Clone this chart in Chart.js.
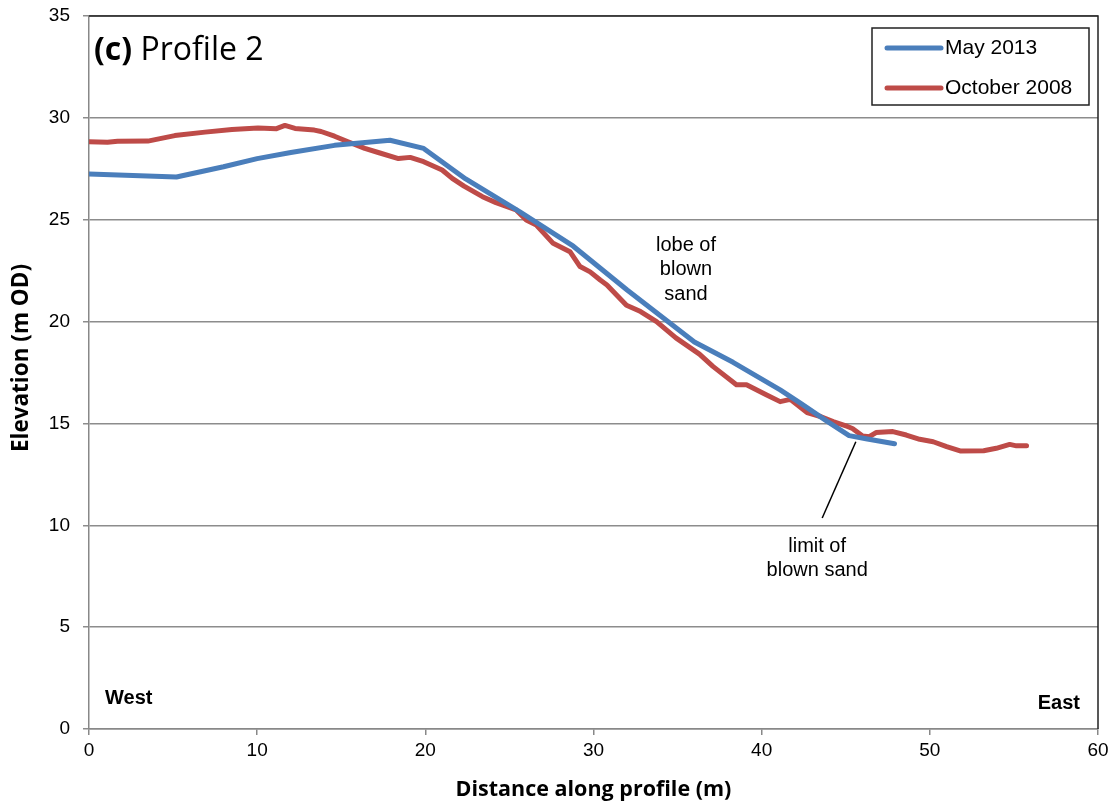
<!DOCTYPE html>
<html>
<head>
<meta charset="utf-8">
<script src="https://cdn.jsdelivr.net/npm/chart.js@4/dist/chart.umd.min.js"></script>
<style>
  html, body { margin: 0; padding: 0; background: #fff; }
  #wrap { width: 1118px; height: 807px; position: relative; }
</style>
</head>
<body>
<div id="wrap"><canvas id="chart" width="1118" height="807"></canvas></div>
<script>
// Profile data
const mayX = [0, 5.2, 8, 10, 12, 14.6, 17.9, 19.9, 22.4, 25.6, 28.8, 32.0, 36.0, 38.3, 41.1, 42.3, 43.9, 45.2, 46.2, 47.9];
const mayY = [27.25, 27.1, 27.6, 28.0, 28.3, 28.65, 28.9, 28.5, 27.0, 25.4, 23.7, 21.55, 19.0, 18.0, 16.65, 16.0, 15.1, 14.4, 14.25, 14.0];

const octX = [0, 1.1, 1.7, 3.5, 5.1, 6.9, 8.5, 10.05, 11.15, 11.65, 12.25, 13.4, 13.8, 14.6, 15.4, 16.4, 17.2, 18.4, 19.1, 19.9,
  21.0, 21.6, 22.3, 23.4, 24.2, 25.4, 26.0, 26.6, 27.6, 28.6, 29.2, 29.8, 30.4, 30.8, 31.96, 32.8, 33.75, 34.9, 36.3, 37.1,
  38.5, 39.1, 40.3, 41.1, 41.7, 42.7, 43.5, 44.25, 45.1, 45.4, 46.0, 46.4, 46.8, 47.8, 48.6, 49.4, 50.2, 51.0, 51.8, 53.2,
  53.95, 54.75, 55.15, 55.75];
const octY = [28.83, 28.8, 28.85, 28.86, 29.13, 29.3, 29.43, 29.5, 29.47, 29.63, 29.48, 29.4, 29.33, 29.1, 28.83, 28.5, 28.3, 28.0, 28.06, 27.85,
  27.44, 27.03, 26.65, 26.13, 25.84, 25.48, 24.99, 24.74, 23.84, 23.43, 22.7, 22.44, 22.04, 21.8, 20.8, 20.49, 20.0, 19.2, 18.4, 17.8,
  16.9, 16.9, 16.4, 16.07, 16.18, 15.53, 15.34, 15.09, 14.85, 14.75, 14.38, 14.35, 14.55, 14.6, 14.43, 14.22, 14.1, 13.86, 13.65, 13.66,
  13.78, 13.97, 13.9, 13.9];

const seriesNames = ['May 2013', 'October 2008'];
const seriesColors = ['#4A7EBB', '#BE4B48'];
const xTicks = [0, 10, 20, 30, 40, 50, 60];
const yTicks = [0, 5, 10, 15, 20, 25, 30, 35];

const toPoints = (xs, ys) => xs.map((x, i) => ({ x, y: ys[i] }));

const TICK_FONT = { family: 'Liberation Sans, Arial, sans-serif', size: 19 };
const TITLE_FONT = { family: 'Open Sans, sans-serif', size: 21.5, weight: 'bold' };
const LABEL = '20px Liberation Sans, Arial, sans-serif';

// Text labels, frame and legend drawn on top of the chart area
const overlay = {
  id: 'overlay',
  afterDraw(chart) {
    const { ctx, chartArea: a, scales: { x, y } } = chart;
    ctx.save();

    // plot frame: dark top and right edges
    ctx.strokeStyle = '#222';
    ctx.lineWidth = 1.5;
    ctx.beginPath();
    ctx.moveTo(a.left, a.top);
    ctx.lineTo(a.right, a.top);
    ctx.lineTo(a.right, a.bottom);
    ctx.stroke();

    // y axis title
    ctx.save();
    ctx.translate(22, 358);
    ctx.rotate(-Math.PI / 2);
    ctx.font = 'bold 22.5px Open Sans, sans-serif';
    ctx.fillStyle = '#000';
    ctx.textAlign = 'center';
    ctx.textBaseline = 'middle';
    ctx.fillText('Elevation (m OD)', 0, 0);
    ctx.restore();

    // panel title
    ctx.fillStyle = '#000';
    ctx.textBaseline = 'alphabetic';
    ctx.textAlign = 'left';
    ctx.font = 'bold 32px Open Sans, sans-serif';
    ctx.fillText('(c)', 94, 60);
    const w = ctx.measureText('(c) ').width;
    ctx.font = '32px Open Sans, sans-serif';
    ctx.fillText('Profile 2', 94 + w, 60);

    // West / East
    ctx.font = 'bold 20px Liberation Sans, Arial, sans-serif';
    ctx.textBaseline = 'middle';
    ctx.fillText('West', 105, 698);
    ctx.textAlign = 'right';
    ctx.fillText('East', 1080, 703);

    // annotations
    ctx.font = LABEL;
    ctx.textAlign = 'center';
    const lx = x.getPixelForValue(35.5);
    ['lobe of', 'blown', 'sand'].forEach((t, i) => ctx.fillText(t, lx, 245 + i * 24.5));
    const mx = x.getPixelForValue(43.3);
    ['limit of', 'blown sand'].forEach((t, i) => ctx.fillText(t, mx, 546 + i * 24));

    // leader line to the limit of blown sand
    ctx.strokeStyle = '#000';
    ctx.lineWidth = 1.5;
    ctx.beginPath();
    ctx.moveTo(x.getPixelForValue(43.6), 518);
    ctx.lineTo(x.getPixelForValue(45.6), y.getPixelForValue(14.1));
    ctx.stroke();

    // legend box
    ctx.strokeStyle = '#222';
    ctx.lineWidth = 1.5;
    ctx.strokeRect(872, 28, 217, 77);
    ctx.textAlign = 'left';
    ctx.font = '21px Liberation Sans, Arial, sans-serif';
    ctx.lineCap = 'round';
    seriesNames.forEach((name, i) => {
      const ly = 48 + i * 40;
      ctx.strokeStyle = seriesColors[i];
      ctx.lineWidth = 5;
      ctx.beginPath();
      ctx.moveTo(887, ly);
      ctx.lineTo(941, ly);
      ctx.stroke();
      ctx.fillStyle = '#000';
      ctx.fillText(name, 945, ly);
    });

    ctx.restore();
  }
};

new Chart(document.getElementById('chart'), {
  type: 'line',
  data: {
    datasets: [
      { label: seriesNames[0], data: toPoints(mayX, mayY), borderColor: seriesColors[0] },
      { label: seriesNames[1], data: toPoints(octX, octY), borderColor: seriesColors[1] }
    ]
  },
  options: {
    responsive: false,
    animation: false,
    layout: { padding: { top: 16, right: 20, left: 6, bottom: 0 } },
    elements: {
      point: { radius: 0 },
      line: { borderWidth: 5, tension: 0, borderJoinStyle: 'round', borderCapStyle: 'round' }
    },
    plugins: { legend: { display: false }, tooltip: { enabled: false } },
    scales: {
      x: {
        type: 'linear',
        min: 0, max: 60,
        afterBuildTicks: s => { s.ticks = xTicks.map(v => ({ value: v })); },
        afterFit: s => { s.height = 78; },
        ticks: { font: TICK_FONT, color: '#000', padding: 4 },
        grid: { display: true, drawOnChartArea: false, color: '#888', lineWidth: 1.5, tickLength: 6 },
        border: { color: '#888', width: 1.5 },
        title: { display: true, text: 'Distance along profile (m)', font: TITLE_FONT, color: '#000', padding: { top: 6 } }
      },
      y: {
        min: 0, max: 35,
        afterBuildTicks: s => { s.ticks = yTicks.map(v => ({ value: v })); },
        afterFit: s => { s.width = 83; s.paddingTop = 0; s.paddingBottom = 0; },
        ticks: { font: TICK_FONT, color: '#000', padding: 13 },
        grid: { color: '#8c8c8c', lineWidth: 1.5, tickLength: 6 },
        border: { color: '#888', width: 1.5 },
        title: { display: false }
      }
    }
  },
  plugins: [overlay]
});
</script>
</body>
</html>
